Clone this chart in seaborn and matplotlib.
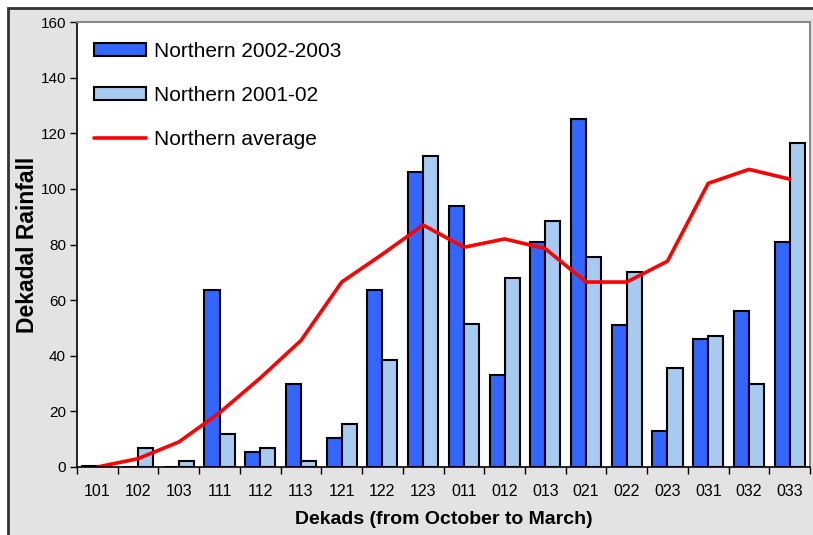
import numpy as np
import pandas as pd
import matplotlib
matplotlib.use("Agg")
import matplotlib.pyplot as plt
from matplotlib.patches import Rectangle
import seaborn as sns

# dekads from October to March
dekads = ["101", "102", "103", "111", "112", "113", "121", "122", "123",
          "011", "012", "013", "021", "022", "023", "031", "032", "033"]
north_2002_03 = [0.5, 0, 0, 63.5, 5.5, 30, 10.5, 63.5, 106,
                 94, 33, 81, 125, 51, 13, 46, 56, 81]
north_2001_02 = [0, 7, 2, 12, 7, 2, 15.5, 38.5, 112,
                 51.5, 68, 88.5, 75.5, 70, 35.5, 47, 30, 116.5]
north_avg = [0, 3, 9, 19.5, 32, 45.5, 66.5, 76.5, 87,
             79, 82, 78.5, 66.5, 66.5, 74, 102, 107, 103.5]
series_names = ["Northern 2002-2003", "Northern 2001-02"]

df = pd.DataFrame({
    "dekad": dekads * 2,
    "rain": north_2002_03 + north_2001_02,
    "series": [series_names[0]] * len(dekads) + [series_names[1]] * len(dekads),
})

sns.set_style("white")
plt.rcParams["font.family"] = ["Liberation Sans", "DejaVu Sans"]
plt.rcParams["text.color"] = "black"
plt.rcParams["axes.labelcolor"] = "black"
plt.rcParams["xtick.color"] = "black"
plt.rcParams["ytick.color"] = "black"

fig = plt.figure(figsize=(8.13, 5.35), dpi=100)
fig.patch.set_facecolor("white")
# gray chart area with dark frame
fig.patches.append(Rectangle((8 / 813, -0.05), 1.1, 1 - 8 / 535 + 0.05,
                             transform=fig.transFigure, facecolor="#e3e3e3",
                             edgecolor="#333333", linewidth=2, zorder=-10))

ax = fig.add_axes([77 / 813, 68 / 535, 733 / 813, 445 / 535])
ax.set_facecolor("white")

sns.barplot(data=df, x="dekad", y="rain", hue="series", order=dekads,
            hue_order=series_names, palette=["#3366FF", "#A6CAF0"],
            width=0.74, edgecolor="black", linewidth=1.5, saturation=1,
            errorbar=None, ax=ax)
sns.lineplot(x=np.arange(len(dekads)), y=north_avg, color="#FF0000",
             linewidth=2.6, label="Northern average", ax=ax)

ax.set_xlim(-0.5, len(dekads) - 0.5)
ax.set_ylim(0, 160)
ax.set_yticks(range(0, 161, 20))
ax.tick_params(axis="y", direction="out", length=5, width=1, labelsize=11,
               left=True, pad=3)
ax.tick_params(axis="x", which="major", length=0, labelsize=11.5, pad=12)
ax.set_xticks(np.arange(-0.5, len(dekads)), minor=True)
ax.tick_params(axis="x", which="minor", direction="out", length=5, width=1,
               bottom=True)

for s in ["left", "bottom"]:
    ax.spines[s].set_color("black")
    ax.spines[s].set_linewidth(1.2)
for s in ["top", "right"]:
    ax.spines[s].set_color("#888888")
    ax.spines[s].set_linewidth(1.5)

ax.set_ylabel("Dekadal Rainfall", fontsize=16.5, fontweight="bold")
ax.yaxis.set_label_coords(-0.052, 0.5)
ax.set_xlabel("Dekads (from October to March)", fontsize=14,
              fontweight="bold")
ax.xaxis.set_label_coords(0.5, -0.098)

handles, labels = ax.get_legend_handles_labels()
ax.legend(handles, labels, loc="upper left", frameon=False, fontsize=15,
          handlelength=2.5, handleheight=0.6, labelspacing=1.2,
          handletextpad=0.4, bbox_to_anchor=(0.0, 0.993), borderaxespad=0.4)

fig.savefig("out.png", dpi=100)
